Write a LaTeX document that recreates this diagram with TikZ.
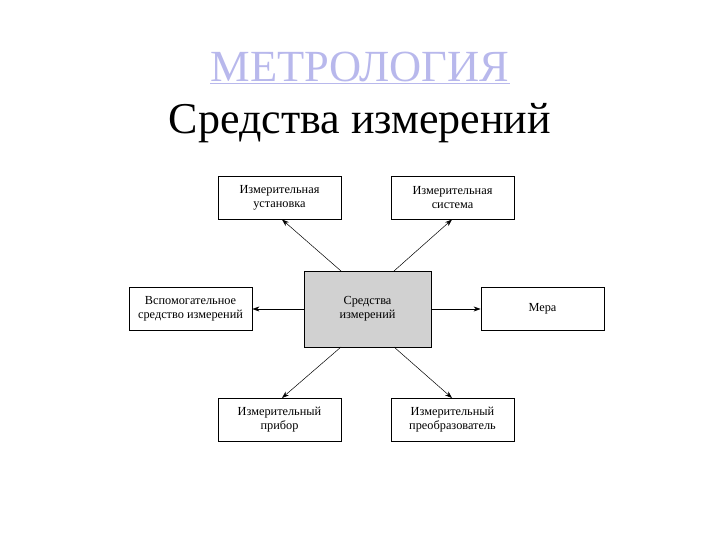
\documentclass[tikz,border=0pt]{standalone}
\usepackage{fontspec}
\setmainfont{Liberation Serif}
\usetikzlibrary{arrows.meta}
\definecolor{titlec}{HTML}{B8B8EC}
\begin{document}
\begin{tikzpicture}[x=1pt,y=-1pt,
  box/.style={draw,line width=0.8pt,minimum width=123pt,minimum height=43pt,align=center,font=\fontsize{12.3}{14}\selectfont,inner sep=1pt},
  arr/.style={-{Stealth[length=7pt,width=5pt]},line width=0.5pt}]
\useasboundingbox (0,0) rectangle (720,540);
\node[text=titlec,font=\fontsize{44.5}{48}\selectfont] (t1) at (360,68) {\underline{МЕТРОЛОГИЯ}};
\node[font=\fontsize{44}{48}\selectfont] (t2) at (360,123) {Средства измерений};
\node[box,fill=black!18,minimum width=127pt,minimum height=76pt] (c) at (367.5,309) {Средства\\измерений};
\node[box] (tl) at (279.5,197.5) {Измерительная\\установка};
\node[box] (tr) at (452.5,197.5) {Измерительная\\система};
\node[box] (l) at (190.5,309) {Вспомогательное\\средство измерений};
\node[box] (r) at (542.5,309) {Мера};
\node[box] (bl) at (279.5,420) {Измерительный\\прибор};
\node[box] (br) at (452.5,420) {Измерительный\\преобразователь};
\coordinate (c1) at (341,271);
\coordinate (c2) at (394,271);
\coordinate (c3) at (341,347);
\coordinate (c4) at (394,347);
\coordinate (e1) at (282,219.5);
\coordinate (e2) at (452,219.5);
\coordinate (e3) at (282,398);
\coordinate (e4) at (452,398);
\draw[arr] (c1) -- (e1);
\draw[arr] (c2) -- (e2);
\draw[arr] (c3) -- (e3);
\draw[arr] (c4) -- (e4);
\draw[arr] (c.west) -- (l.east);
\draw[arr] (c.east) -- (r.west);
\end{tikzpicture}
\end{document}
